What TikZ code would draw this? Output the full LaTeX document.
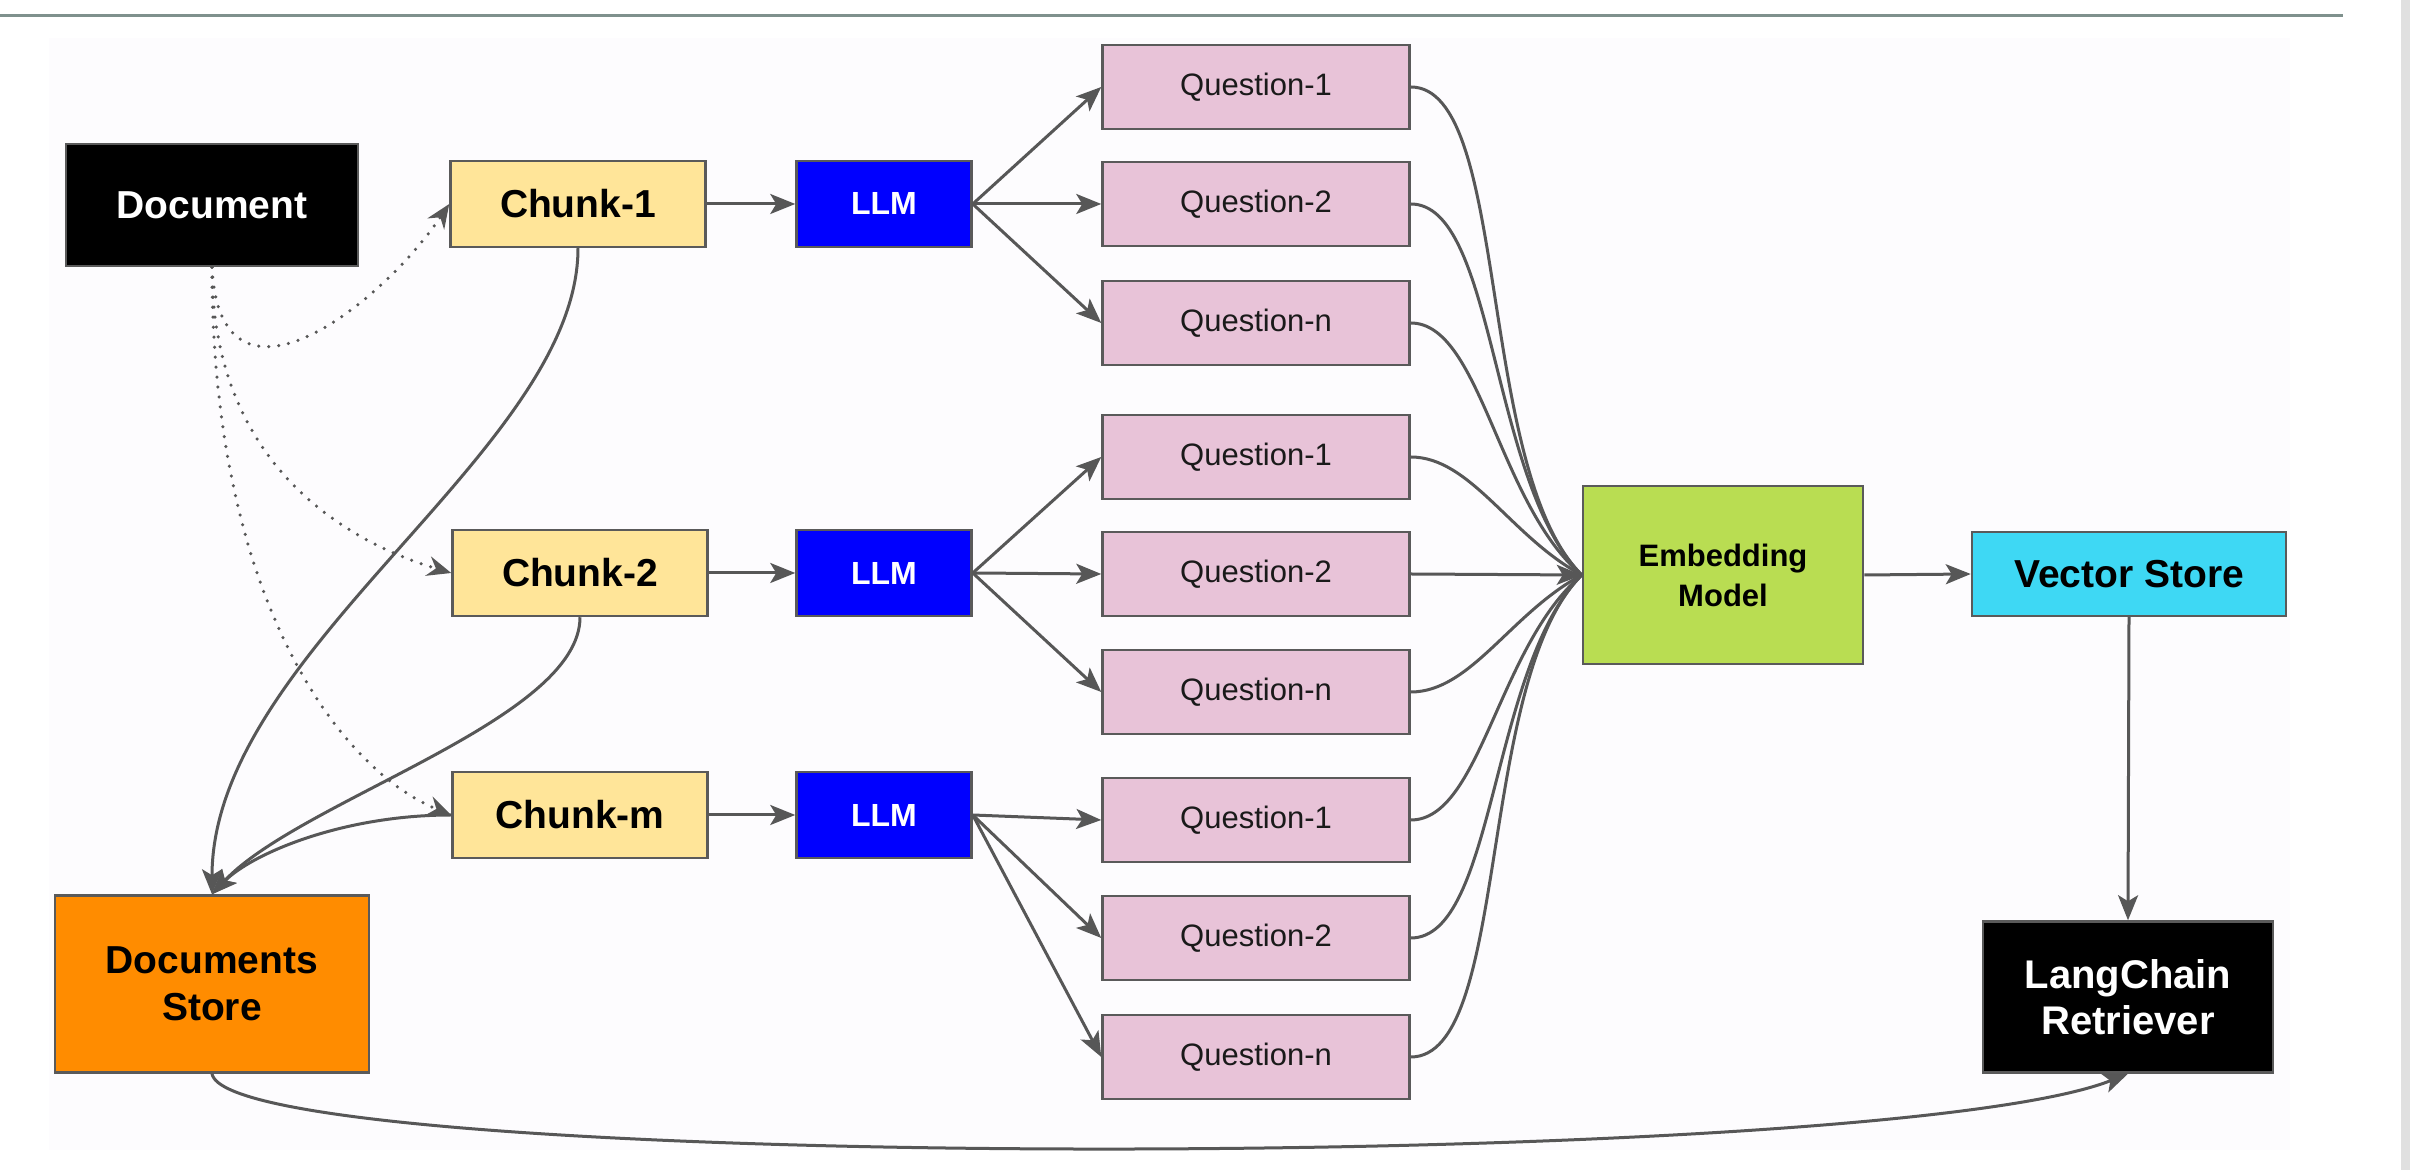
\documentclass[tikz,border=0pt]{standalone}
\usepackage{fontspec}
\setmainfont{Liberation Sans}
\usetikzlibrary{arrows.meta}
\definecolor{edgec}{HTML}{575757}
\definecolor{boxline}{HTML}{5A5A5A}
\definecolor{chunkc}{HTML}{FFE599}
\definecolor{qc}{HTML}{E8C3D8}
\definecolor{llmc}{HTML}{0000FF}
\definecolor{embc}{HTML}{B9DD52}
\definecolor{vsc}{HTML}{3ED8F4}
\definecolor{dsc}{HTML}{FF8C00}
\definecolor{toplinec}{HTML}{7F918D}
\definecolor{stripec}{HTML}{E0E0E0}
\definecolor{bgc}{HTML}{FDFCFE}
\definecolor{qtext}{HTML}{1A1A1A}
\begin{document}
\begin{tikzpicture}[x=1pt,y=1pt,
  box/.style={draw=boxline, line width=2.5pt, inner sep=0pt, align=center},
  bigtxt/.style={font=\fontsize{39}{47}\selectfont\bfseries},
  chunkbox/.style={box, fill=chunkc, bigtxt, minimum width=255pt, minimum height=86pt},
  llmbox/.style={box, fill=llmc, text=white, font=\fontsize{32}{38}\selectfont\bfseries, minimum width=175pt, minimum height=86pt},
  qbox/.style={box, fill=qc, text=qtext, font=\fontsize{31}{37}\selectfont, minimum width=307pt, minimum height=84pt},
  conn/.style={draw=edgec, line width=3pt, -{Stealth[length=25pt,width=20pt,inset=6pt]}},
  curve/.style={draw=edgec, line width=3pt},
  dotline/.style={draw=edgec, line width=3.5pt, line cap=round, dash pattern=on 0pt off 10pt, -{Stealth[length=24pt,width=20pt,inset=8pt]}}
]
\useasboundingbox (0,0) rectangle (2410,1170);
\fill[white] (0,0) rectangle (2410,1170);
\fill[bgc] (49,20) rectangle (2290,1132);
\fill[stripec] (2401,0) rectangle (2410,1170);
\draw[toplinec, line width=3pt] (0,1154) -- (2343,1154);

% left column
\node[box, fill=black, text=white, bigtxt, minimum width=292pt, minimum height=122pt] (doc) at (212,965) {Document};
\node[box, fill=dsc, bigtxt, minimum width=314pt, minimum height=177pt] (ds) at (212,186) {Documents\\Store};

% chunks
\node[chunkbox] (c1) at (578,966) {Chunk-1};
\node[chunkbox] (c2) at (580,597) {Chunk-2};
\node[chunkbox] (cm) at (580,355) {Chunk-m};

% LLMs
\node[llmbox] (l1) at (884,966) {LLM};
\node[llmbox] (l2) at (884,597) {LLM};
\node[llmbox] (l3) at (884,355) {LLM};

% questions
\node[qbox] (q11) at (1256,1083) {Question-1};
\node[qbox] (q12) at (1256,966) {Question-2};
\node[qbox] (q1n) at (1256,847) {Question-n};
\node[qbox] (q21) at (1256,713) {Question-1};
\node[qbox] (q22) at (1256,596) {Question-2};
\node[qbox] (q2n) at (1256,478) {Question-n};
\node[qbox] (q31) at (1256,350) {Question-1};
\node[qbox] (q32) at (1256,232) {Question-2};
\node[qbox] (q3n) at (1256,113) {Question-n};

% right side
\node[box, fill=embc, font=\fontsize{31}{40}\selectfont\bfseries, minimum width=280pt, minimum height=178pt] (emb) at (1723,595) {Embedding\\Model};
\node[box, fill=vsc, bigtxt, minimum width=314pt, minimum height=84pt] (vs) at (2129,596) {Vector Store};
\node[box, fill=black, text=white, font=\fontsize{40}{46}\selectfont\bfseries, minimum width=290pt, minimum height=151pt] (lc) at (2128,173) {LangChain\\Retriever};

% dotted document -> chunks
\draw[dotline] (doc.south) .. controls (220,740) and (380,863) .. (c1.west);
\draw[dotline] (doc.south) .. controls (212,710) and (340,630) .. (c2.west);
\draw[dotline] (doc.south) .. controls (212,570) and (340,400) .. (cm.west);

% chunks -> documents store
\draw[conn] (c1.south) .. controls (578,720) and (212,520) .. (ds.north);
\draw[conn] (c2.south) .. controls (580,450) and (300,370) .. (ds.north);
\draw[conn] (cm.west) .. controls (340,355) and (250,315) .. (ds.north);

% chunks -> LLM
\draw[conn] (c1.east) -- (l1.west);
\draw[conn] (c2.east) -- (l2.west);
\draw[conn] (cm.east) -- (l3.west);

% LLM -> questions
\foreach \l/\a/\b/\c in {l1/q11/q12/q1n, l2/q21/q22/q2n, l3/q31/q32/q3n}{
  \draw[conn] (\l.east) -- (\a.west);
  \draw[conn] (\l.east) -- (\b.west);
  \draw[conn] (\l.east) -- (\c.west);
}

% questions -> embedding
\draw[curve] (q11.east) .. controls +(100,0) and +(-106,106) .. (emb.west);
\draw[curve] (q12.east) .. controls +(85,0) and +(-92,92) .. (emb.west);
\draw[curve] (q1n.east) .. controls +(70,0) and +(-84,71) .. (emb.west);
\draw[curve] (q21.east) .. controls +(60,0) and +(-71,38) .. (emb.west);
\draw[curve] (q2n.east) .. controls +(60,0) and +(-71,-38) .. (emb.west);
\draw[curve] (q31.east) .. controls +(70,0) and +(-84,-71) .. (emb.west);
\draw[curve] (q32.east) .. controls +(85,0) and +(-92,-92) .. (emb.west);
\draw[curve] (q3n.east) .. controls +(100,0) and +(-106,-106) .. (emb.west);
\draw[conn] (q22.east) -- (emb.west);

% embedding -> vector store -> retriever
\draw[conn] (emb.east) -- (vs.west);
\draw[conn] (vs.south) -- (lc.north);

% documents store -> retriever
\draw[conn] (ds.south) .. controls (230,-3) and (1878,-3) .. (lc.south);
\end{tikzpicture}
\end{document}
